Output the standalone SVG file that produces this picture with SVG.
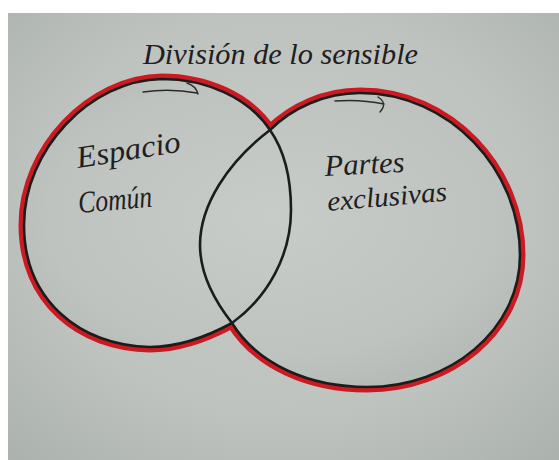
<svg xmlns="http://www.w3.org/2000/svg" width="559" height="460" viewBox="0 0 559 460">
  <defs>
    <radialGradient id="paper" cx="0.5" cy="0.45" r="0.75">
      <stop offset="0" stop-color="#c8ccc9"/>
      <stop offset="0.6" stop-color="#bec3c0"/>
      <stop offset="1" stop-color="#abb1ad"/>
    </radialGradient>
  </defs>
  <style>
    .ink { fill: none; stroke: #1b1d1c; stroke-width: 2.6; stroke-linecap: round; stroke-linejoin: round; }
    .thin { fill: none; stroke: #2a2c2b; stroke-width: 1.4; stroke-linecap: round; }
    .red { fill: none; stroke: #cc1a22; stroke-width: 11; stroke-linejoin: round; }
    .hand { font-family: "Liberation Serif", "DejaVu Serif", serif; font-style: italic; fill: #1e201f; }
  </style>

  <rect x="0" y="0" width="559" height="460" fill="#ffffff"/>
  <rect x="8" y="13" width="551" height="447" fill="url(#paper)"/>

  <g id="title">
    <text class="hand" x="143" y="64" font-size="30" textLength="275" lengthAdjust="spacingAndGlyphs">División de lo sensible</text>
  </g>

  <g id="outline">
    <path id="union" class="red" d="M 270 130 C 248 97 205 79 162 79 C 90 80 24 150 24 225 C 24 300 80 346 150 347 C 180 347 210 335 232 323 C 258 365 310 387 367 387 C 450 387 520 330 520 255 C 520 170 450 93 360 93 C 325 93 292 108 270 130 Z"/>
    <path fill="url(#paper)" d="M 270 130 C 248 97 205 79 162 79 C 90 80 24 150 24 225 C 24 300 80 346 150 347 C 180 347 210 335 232 323 C 258 365 310 387 367 387 C 450 387 520 330 520 255 C 520 170 450 93 360 93 C 325 93 292 108 270 130 Z"/>
  </g>

  <g id="espacio-comun">
    <path class="ink" d="M 162 79 C 90 80 24 150 24 225 C 24 300 80 346 150 347 C 180 347 210 335 232 323 C 268 297 291 255 291 210 C 291 175 284 150 270 130 C 248 97 205 79 162 79 Z"/>
    <text class="hand" x="78" y="168" font-size="31" textLength="105" lengthAdjust="spacingAndGlyphs" transform="rotate(-9 78 168)">Espacio</text>
    <text class="hand" x="79" y="213" font-size="31" textLength="74" lengthAdjust="spacingAndGlyphs" transform="rotate(-5 79 213)">Común</text>
  </g>

  <g id="partes-exclusivas">
    <path class="ink" d="M 270 130 C 292 108 325 93 360 93 C 450 93 520 170 520 255 C 520 330 450 387 367 387 C 310 387 258 365 232 323 C 210 295 200 268 200 245 C 200 205 228 162 270 130 Z"/>
    <text class="hand" x="325" y="176" font-size="30" textLength="80" lengthAdjust="spacingAndGlyphs" transform="rotate(-3 325 176)">Partes</text>
    <text class="hand" x="328" y="211" font-size="28" textLength="120" lengthAdjust="spacingAndGlyphs" transform="rotate(-5 328 211)">exclusivas</text>
  </g>

  <g id="connectors">
    <path class="thin" d="M 143 92 Q 170 88 197 93 M 187 83 Q 196 86 198 94"/>
    <path class="thin" d="M 335 101 Q 360 99 384 104 M 378 97 Q 388 103 380 112"/>
  </g>
</svg>
